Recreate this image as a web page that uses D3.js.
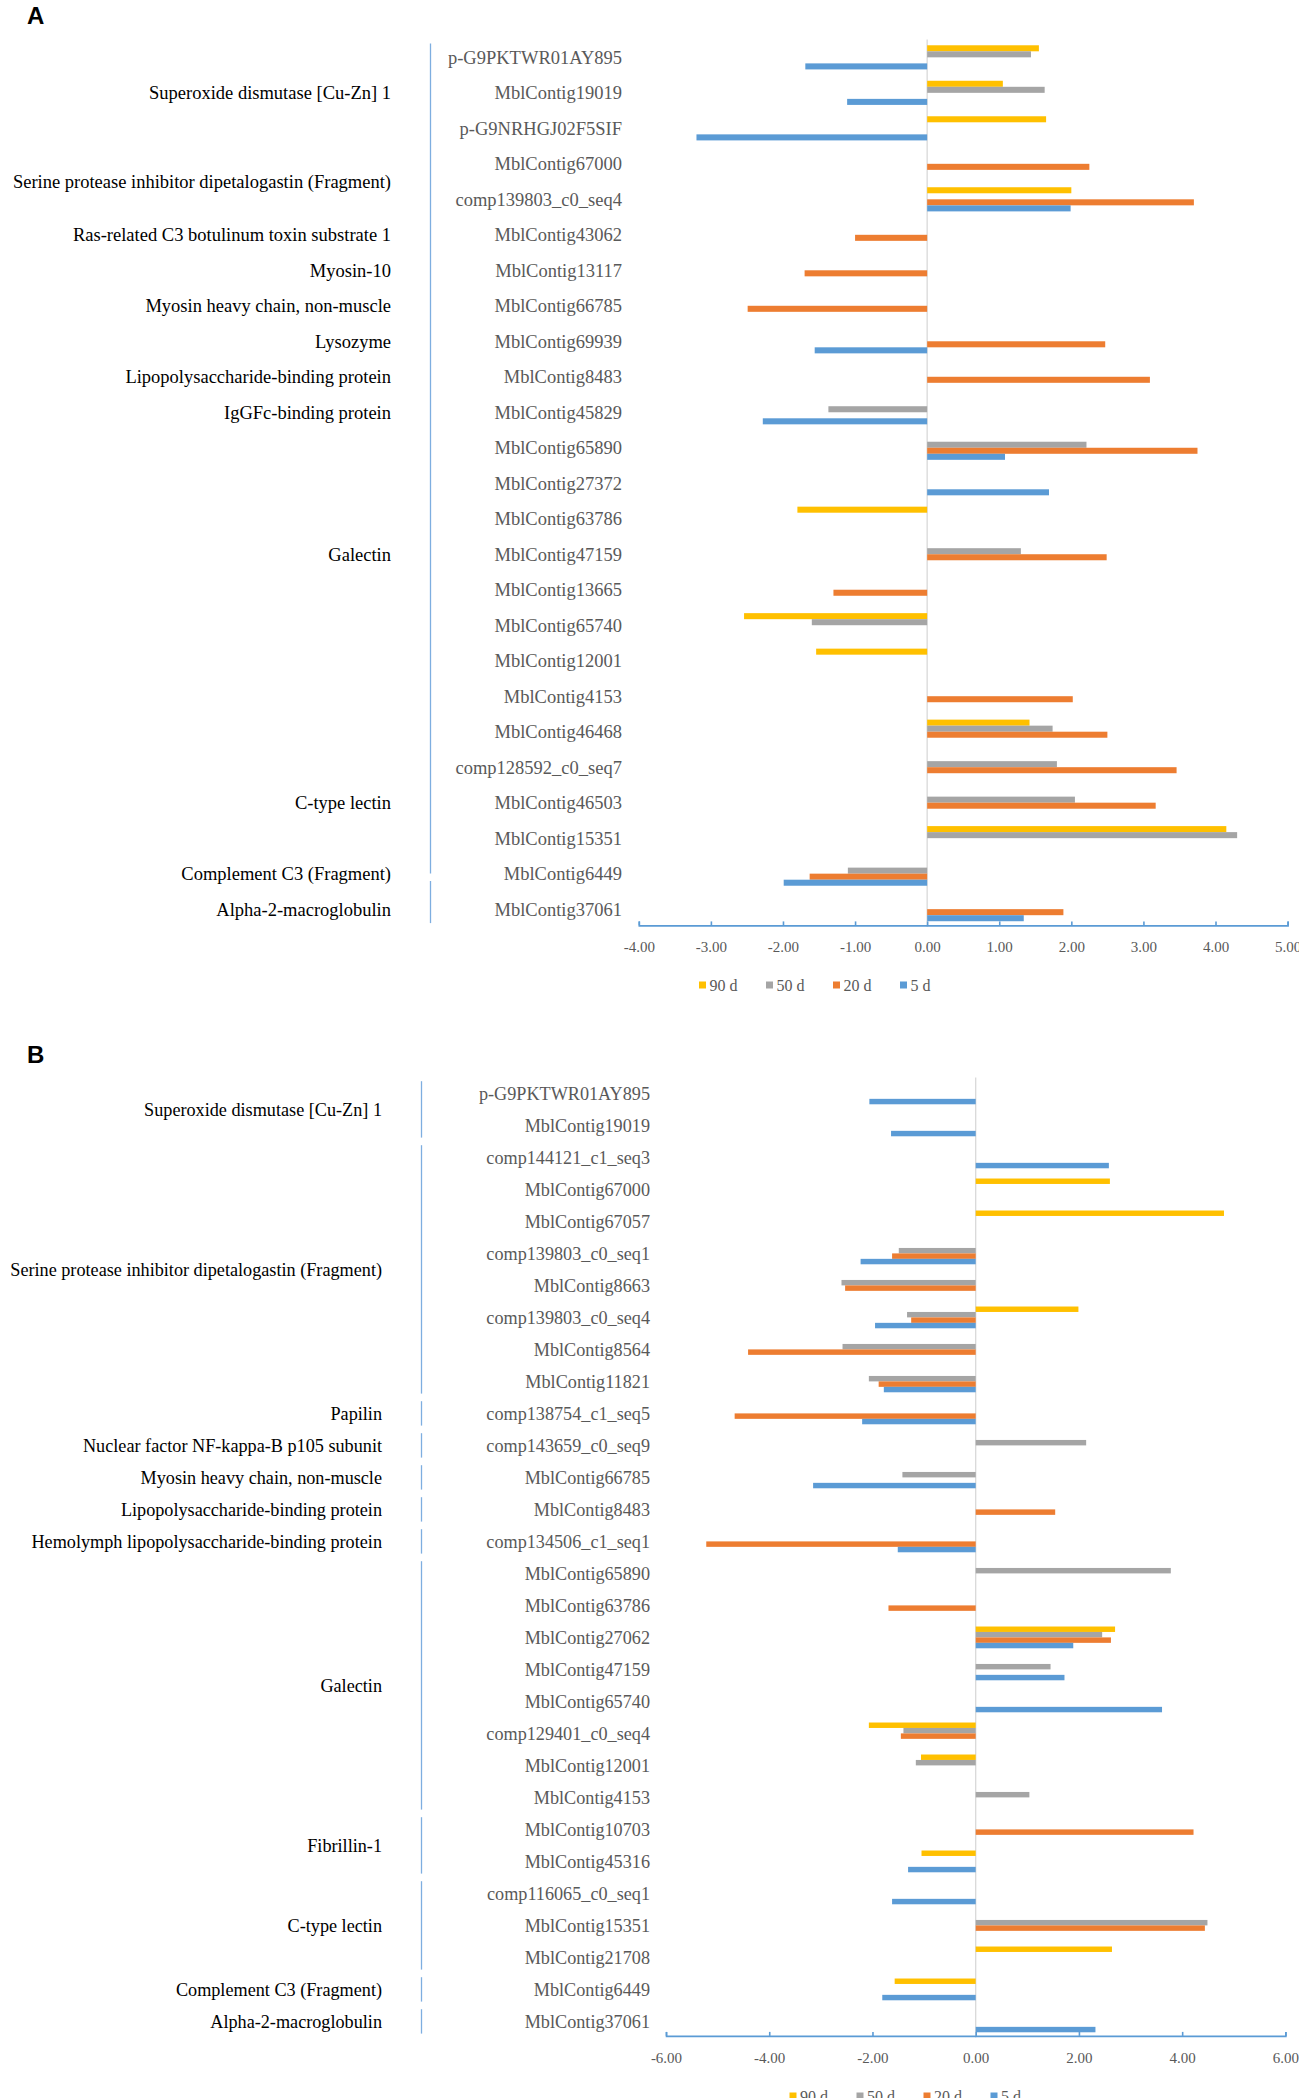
<!DOCTYPE html>
<html>
<head>
<meta charset="utf-8">
<script src="https://cdnjs.cloudflare.com/ajax/libs/d3/7.8.5/d3.min.js"></script>
<style>
body { margin: 0; background: #fff; }
</style>
</head>
<body>
<div id="chart"></div>
<script>
var w = 1299,
	h = 2098;

var seriesNames = ["90 d", "50 d", "20 d", "5 d"];
var seriesColors = ["#FFC000", "#A5A5A5", "#ED7D31", "#5B9BD5"];

// ---- panel A ----
var contigsA = ["p-G9PKTWR01AY895", "MblContig19019", "p-G9NRHGJ02F5SIF", "MblContig67000", "comp139803_c0_seq4",
	"MblContig43062", "MblContig13117", "MblContig66785", "MblContig69939", "MblContig8483", "MblContig45829",
	"MblContig65890", "MblContig27372", "MblContig63786", "MblContig47159", "MblContig13665", "MblContig65740",
	"MblContig12001", "MblContig4153", "MblContig46468", "comp128592_c0_seq7", "MblContig46503", "MblContig15351",
	"MblContig6449", "MblContig37061"];
var d90A = [1.55, 1.05, 1.65, null, 2.00, null, null, null, null, null, null, null, null, -1.80, null, null, -2.54, -1.54, null, 1.42, null, null, 4.15, null, null];
var d50A = [1.44, 1.63, null, null, null, null, null, null, null, null, -1.37, 2.21, null, null, 1.30, null, -1.60, null, null, 1.74, 1.80, 2.05, 4.30, -1.10, null];
var d20A = [null, null, null, 2.25, 3.70, -1.00, -1.70, -2.49, 2.47, 3.09, null, 3.75, null, null, 2.49, -1.30, null, null, 2.02, 2.50, 3.46, 3.17, null, -1.63, 1.89];
var d5A = [-1.69, -1.11, -3.20, null, 1.99, null, null, null, -1.56, null, -2.28, 1.08, 1.69, null, null, null, null, null, null, null, null, null, null, -1.99, 1.34];
var groupsA = [
	["Superoxide dismutase [Cu-Zn] 1", 0, 3],
	["Serine protease inhibitor dipetalogastin (Fragment)", 3, 5],
	["Ras-related C3 botulinum toxin substrate 1", 5, 6],
	["Myosin-10", 6, 7],
	["Myosin heavy chain, non-muscle", 7, 8],
	["Lysozyme", 8, 9],
	["Lipopolysaccharide-binding protein", 9, 10],
	["IgGFc-binding protein", 10, 11],
	["Galectin", 11, 18],
	["C-type lectin", 20, 23],
	["Complement C3 (Fragment)", 23, 24],
	["Alpha-2-macroglobulin", 24, 25]
];
var bracketsA = [[0, 23.6], [23.6, 25]];
var ticksA = [-4, -3, -2, -1, 0, 1, 2, 3, 4, 5];

// ---- panel B ----
var contigsB = ["p-G9PKTWR01AY895", "MblContig19019", "comp144121_c1_seq3", "MblContig67000", "MblContig67057",
	"comp139803_c0_seq1", "MblContig8663", "comp139803_c0_seq4", "MblContig8564", "MblContig11821",
	"comp138754_c1_seq5", "comp143659_c0_seq9", "MblContig66785", "MblContig8483", "comp134506_c1_seq1",
	"MblContig65890", "MblContig63786", "MblContig27062", "MblContig47159", "MblContig65740", "comp129401_c0_seq4",
	"MblContig12001", "MblContig4153", "MblContig10703", "MblContig45316", "comp116065_c0_seq1", "MblContig15351",
	"MblContig21708", "MblContig6449", "MblContig37061"];
var d90B = [null, null, null, 2.60, 4.81, null, null, 1.99, null, null, null, null, null, null, null, null, null, 2.70, null, null, -2.07, -1.06, null, null, -1.05, null, null, 2.64, -1.57, null];
var d50B = [null, null, null, null, null, -1.49, -2.60, -1.33, -2.58, -2.07, null, 2.14, -1.42, null, null, 3.78, null, 2.45, 1.45, null, -1.40, -1.16, 1.04, null, null, null, 4.49, null, null, null];
var d20B = [null, null, null, null, null, -1.62, -2.53, -1.25, -4.41, -1.88, -4.67, null, null, 1.54, -5.22, null, -1.69, 2.62, null, null, -1.45, null, null, 4.22, null, null, 4.44, null, null, null];
var d5B = [-2.06, -1.64, 2.58, null, null, -2.23, null, -1.95, null, -1.78, -2.20, null, -3.15, null, -1.51, null, null, 1.89, 1.72, 3.61, null, null, null, null, -1.31, -1.62, null, null, -1.81, 2.32];
var groupsB = [
	["Superoxide dismutase [Cu-Zn] 1", 0, 2],
	["Serine protease inhibitor dipetalogastin (Fragment)", 2, 10],
	["Papilin", 10, 11],
	["Nuclear factor NF-kappa-B p105 subunit", 11, 12],
	["Myosin heavy chain, non-muscle", 12, 13],
	["Lipopolysaccharide-binding protein", 13, 14],
	["Hemolymph lipopolysaccharide-binding protein", 14, 15],
	["Galectin", 15, 23],
	["Fibrillin-1", 23, 25],
	["C-type lectin", 25, 28],
	["Complement C3 (Fragment)", 28, 29],
	["Alpha-2-macroglobulin", 29, 30]
];
var ticksB = [-6, -4, -2, 0, 2, 4, 6];

var serif = "'Liberation Serif', 'Times New Roman', serif";

var root = d3.select("#chart").append("svg").attr("width", w).attr("height", h);

drawPanel({
	letter: "A", letterY: 24,
	contigs: contigsA, series: [d90A, d50A, d20A, d5A],
	groups: groupsA, brackets: bracketsA,
	ticks: ticksA, domain: [-4, 5], xRange: [638.8, 1287.6], yRange: [39.6, 926.9],
	rowLabelX: 622, groupLabelX: 391, bracketX: 430.5, fontSize: 18.5,
	legendX: 699, legendY: 985
});

drawPanel({
	letter: "B", letterY: 1063,
	contigs: contigsB, series: [d90B, d50B, d20B, d5B],
	groups: groupsB, brackets: groupsB.map(function(g) { return [g[1], g[2]]; }),
	ticks: ticksB, domain: [-6, 6], xRange: [666, 1285.4], yRange: [1077.4, 2037.4],
	rowLabelX: 650, groupLabelX: 382, bracketX: 421.5, fontSize: 18.2,
	legendX: 789.5, legendY: 2096
});

function drawPanel(p) {
	var y = d3.scaleBand().domain(d3.range(p.contigs.length)).range(p.yRange);
	var sub = d3.scaleBand().domain(seriesNames).range([0, y.bandwidth()]).paddingOuter(0.94);
	var x = d3.scaleLinear().domain(p.domain).range(p.xRange);
	var rowY = function(r) {
		return p.yRange[0] + r * y.step();
	};

	root.append("text").attr("x", 27).attr("y", p.letterY).text(p.letter)
		.style("font-family", "'Liberation Sans', Arial, sans-serif").style("font-weight", "bold").style("font-size", "24px");

	// zero line (category axis)
	root.append("line").attr("x1", x(0)).attr("x2", x(0)).attr("y1", p.yRange[0]).attr("y2", p.yRange[1])
		.style("stroke", "#D9D9D9").style("stroke-width", 1.3);

	// bars
	seriesNames.forEach(function(s, k) {
		var rows = p.series[k].map(function(v, i) {
			return {i: i, v: v};
		}).filter(function(d) {
			return d.v !== null;
		});
		root.append("g").selectAll("rect").data(rows).enter().append("rect")
			.attr("x", function(d) { return x(Math.min(0, d.v)); })
			.attr("width", function(d) { return Math.abs(x(d.v) - x(0)); })
			.attr("y", function(d) { return y(d.i) + sub(s); })
			.attr("height", sub.bandwidth())
			.style("fill", seriesColors[k]);
	});

	// contig labels
	root.append("g").selectAll("text").data(p.contigs).enter().append("text")
		.attr("x", p.rowLabelX)
		.attr("y", function(d, i) { return y(i) + y.bandwidth() / 2; })
		.attr("dy", "0.35em")
		.attr("text-anchor", "end")
		.style("font-family", serif).style("font-size", p.fontSize + "px").style("fill", "#595959")
		.text(function(d) { return d; });

	// group brackets
	root.append("g").selectAll("line").data(p.brackets).enter().append("line")
		.attr("x1", p.bracketX).attr("x2", p.bracketX)
		.attr("y1", function(d) { return rowY(d[0]) + 3.8; })
		.attr("y2", function(d) { return rowY(d[1]) - 3.8; })
		.style("stroke", "#7EAEE0").style("stroke-width", 1.3);

	// group labels
	root.append("g").selectAll("text").data(p.groups).enter().append("text")
		.attr("x", p.groupLabelX)
		.attr("y", function(d) { return (rowY(d[1]) + rowY(d[2])) / 2; })
		.attr("dy", "0.35em")
		.attr("text-anchor", "end")
		.style("font-family", serif).style("font-size", p.fontSize + "px").style("fill", "#000")
		.text(function(d) { return d[0]; });

	// value axis
	var axis = d3.axisBottom(x).tickValues(p.ticks).tickFormat(function(d) {
		return d.toFixed(2);
	}).tickSize(-4).tickPadding(16);
	var ax = root.append("g").attr("transform", "translate(0," + (p.yRange[1] - 1.5) + ")").call(axis);
	ax.select(".domain").style("stroke", "#5B9BD5").style("stroke-width", 1.6);
	ax.selectAll(".tick line").style("stroke", "#5B9BD5").style("stroke-width", 1.6);
	ax.selectAll(".tick text").style("font-family", serif).style("font-size", "15px").style("fill", "#595959");

	// legend
	var lg = root.append("g").selectAll("g").data(seriesNames).enter().append("g")
		.attr("transform", function(d, k) { return "translate(" + (p.legendX + k * 67) + "," + p.legendY + ")"; });
	lg.append("rect").attr("x", 0).attr("y", -3.5).attr("width", 7).attr("height", 7)
		.style("fill", function(d, k) { return seriesColors[k]; });
	lg.append("text").attr("x", 10.5).attr("dy", "0.35em")
		.style("font-family", serif).style("font-size", "16px").style("fill", "#595959")
		.text(function(d) { return d; });
}
</script>
</body>
</html>
